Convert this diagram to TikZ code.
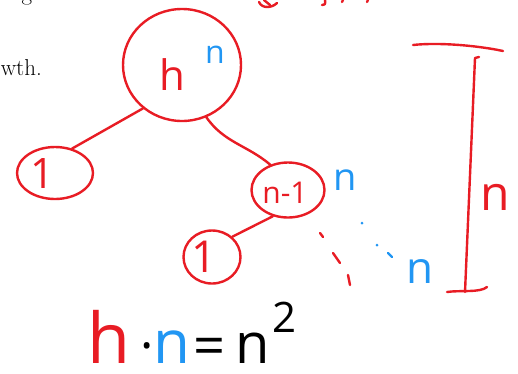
\documentclass[tikz,border=0pt]{standalone}
\usepackage{fontspec}
\newfontfamily\hand{Open Sans}
\usetikzlibrary{shapes.geometric}
\definecolor{hred}{RGB}{232,28,36}
\definecolor{hblue}{RGB}{33,150,243}
\tikzset{
  pen/.style={draw=hred, line width=2.4pt, line cap=round, line join=round},
  bpen/.style={draw=hblue, line width=2.4pt, line cap=round},
  blob/.style={ellipse, pen, inner sep=0pt},
  hw/.style={inner sep=0pt, anchor=base, font=\hand, text depth=0pt},
  redt/.style={hw, text=hred},
  bluet/.style={hw, text=hblue},
  blackt/.style={hw, text=black}
}
\newcommand{\fs}[1]{\fontsize{#1}{#1}\selectfont}
\begin{document}
\begin{tikzpicture}[x=1pt,y=-1pt]
\useasboundingbox (0,0) rectangle (518,373);
\fill[white] (0,0) rectangle (518,373);
\clip (0,0) rectangle (518,373);
% cut-off printed text
\node[inner sep=0pt, anchor=base] (gtxt) at (27,0) {\fs{23}g};
\node[inner sep=0pt, anchor=base east, text depth=0pt] (wth) at (42,75) {\fs{23}wth.};
% cut-off red scribbles at top
\draw[pen] (259,2) .. controls (262,9) and (272,8) .. (277,3);
\draw[pen] (264,0) -- (270,5);
\draw[pen] (325,0) .. controls (326,4) and (324,6) .. (322,5);
\draw[pen] (343,0) -- (342,2);
\draw[pen] (368,0) -- (367,2);
% nodes
\node[blob, minimum width=118pt, minimum height=112pt] (root) at (182,65) {};
\node[blob, minimum width=76pt, minimum height=52pt] (c1) at (55,173) {};
\node[blob, minimum width=73pt, minimum height=55pt] (n1) at (288,190) {};
\node[blob, minimum width=57pt, minimum height=53pt] (c2) at (212,257) {};
% labels
\node[redt] (rooth) at (172,90) {\fs{42}h};
\node[bluet] (rootn) at (215,63) {\fs{32}n};
\node[redt] (c1t) at (43,188) {\fs{42}1};
\node[redt] (n1t) at (285,203) {\fs{30}n-1};
\node[bluet] (n1n) at (345,190) {\fs{38}n};
\node[redt] (c2t) at (204,272) {\fs{44}1};
\node[bluet] (nlow) at (420,283) {\fs{44}n};
\node[redt] (nbr) at (495,210) {\fs{48}n};
% connectors
\draw[pen] (root.228) -- (c1.55);
\draw[pen] (root.295) to[out=-55,in=140] (n1.125);
\draw[pen] (n1.240) -- (c2.45);
% continuation dashes and dots
\draw[pen] (320,233) -- (323,237);
\draw[pen] (333,253) -- (340,263);
\draw[pen] (348,275) -- (350,285);
\fill[hblue] (362,223) circle (1.5pt);
\fill[hblue] (377,245) circle (1.5pt);
\draw[bpen] (388,253) -- (392,257);
% bracket
\coordinate (bt1) at (413,45);
\coordinate (bt2) at (503,51);
\coordinate (bv1) at (475,58);
\coordinate (bv2) at (465,292);
\coordinate (bb1) at (447,292);
\coordinate (bb2) at (487,287);
\draw[pen] (bt1) .. controls (440,42) and (480,46) .. (bt2);
\draw[pen] (479,57) -- (bv1) -- (bv2);
\draw[pen] (bb1) .. controls (460,290) and (480,293) .. (bb2);
% formula
\node[redt] (fh) at (109,363) {\fs{70}h};
\node[blackt] (fdot) at (147,363) {\fs{50}·};
\node[bluet] (fn1) at (172,363) {\fs{60}n};
\node[blackt, anchor=center] (feq) at (210,352) {\fs{56}=};
\node[blackt] (fn2) at (253,363) {\fs{56}n};
\node[blackt] (f2) at (285,332) {\fs{42}2};
\end{tikzpicture}
\end{document}
